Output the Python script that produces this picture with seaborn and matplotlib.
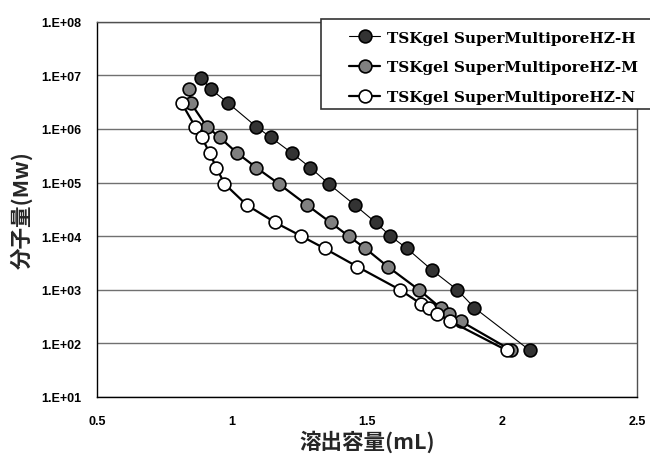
import numpy as np
import pandas as pd
import matplotlib
matplotlib.use("Agg")
import matplotlib.pyplot as plt
from matplotlib.ticker import FixedLocator, FuncFormatter, MultipleLocator
from matplotlib.patches import Rectangle
import seaborn as sns

# ---- data ----
series_names = ["TSKgel SuperMultiporeHZ-H",
                "TSKgel SuperMultiporeHZ-M",
                "TSKgel SuperMultiporeHZ-N"]

h_volume = [0.885, 0.922, 0.987, 1.090, 1.143, 1.222, 1.290, 1.358, 1.455,
            1.532, 1.587, 1.648, 1.742, 1.834, 1.898, 2.103]
h_mw = [9.0e6, 5.5e6, 3.0e6, 1.1e6, 7.0e5, 3.55e5, 1.9e5, 9.5e4, 3.8e4,
        1.8e4, 1.0e4, 5.9e3, 2.3e3, 1.0e3, 4.6e2, 74]

m_volume = [0.842, 0.848, 0.907, 0.954, 1.019, 1.090, 1.173, 1.278, 1.365,
            1.432, 1.494, 1.577, 1.692, 1.773, 1.804, 1.847, 2.035]
m_mw = [5.5e6, 3.0e6, 1.1e6, 7.0e5, 3.55e5, 1.9e5, 9.5e4, 3.8e4, 1.8e4,
        1.0e4, 5.9e3, 2.7e3, 1.0e3, 4.6e2, 3.6e2, 2.6e2, 74]

n_volume = [0.814, 0.864, 0.888, 0.917, 0.942, 0.972, 1.055, 1.160, 1.257,
            1.343, 1.464, 1.622, 1.699, 1.729, 1.760, 1.808, 2.018]
n_mw = [3.0e6, 1.1e6, 7.0e5, 3.55e5, 1.9e5, 9.5e4, 3.8e4, 1.8e4, 1.0e4,
        5.9e3, 2.7e3, 1.0e3, 5.5e2, 4.6e2, 3.6e2, 2.6e2, 74]

x_ticks = [0.5, 1.0, 1.5, 2.0, 2.5]
x_tick_labels = ["0.5", "1", "1.5", "2", "2.5"]
y_ticks = [1e1, 1e2, 1e3, 1e4, 1e5, 1e6, 1e7, 1e8]

x_label = "溶出容量(mL)"
y_label = "分子量(Mw)"

# ---- styling ----
sns.set_theme(style="white")
plt.rcParams["font.family"] = ["Liberation Sans", "DejaVu Sans"]

W, H = 650, 460
fig = plt.figure(figsize=(6.5, 4.6), dpi=100)
ax = fig.add_axes([97 / W, 1 - 398 / H, (637 - 97) / W, (398 - 22.7) / H])

face_colors = ["#333333", "#808080", "#ffffff"]
line_widths = [0.8, 1.6, 1.6]
volumes = [h_volume, m_volume, n_volume]
mws = [h_mw, m_mw, n_mw]

for name, vol, mw, fc, lw in zip(series_names, volumes, mws, face_colors, line_widths):
    df = pd.DataFrame({"vol": vol, "mw": mw})
    sns.lineplot(data=df, x="vol", y="mw", ax=ax, sort=False, color="black",
                 linewidth=lw, marker="o", markersize=9.2,
                 markerfacecolor=fc, markeredgecolor="black",
                 markeredgewidth=1.2, label=name, zorder=3)

ax.set_yscale("log")
ax.set_xlim(0.5, 2.5)
ax.set_ylim(1e1, 1e8)

ax.xaxis.set_major_locator(FixedLocator(x_ticks))
ax.set_xticklabels(x_tick_labels)
ax.xaxis.set_minor_locator(MultipleLocator(0.1))
ax.yaxis.set_major_locator(FixedLocator(y_ticks))
ax.yaxis.set_minor_locator(FixedLocator([]))
ax.yaxis.set_major_formatter(FuncFormatter(lambda v, p: "1.E+%02d" % int(round(np.log10(v)))))

ax.tick_params(axis="both", which="both", direction="in", colors="black",
               labelsize=9, width=0.8)
ax.tick_params(axis="x", which="major", length=3.5, pad=13)
ax.tick_params(axis="x", which="minor", length=3)
ax.tick_params(axis="y", which="major", length=3.5, pad=11)
ax.tick_params(axis="x", which="both", top=False)
ax.tick_params(axis="y", which="both", right=False)
for lab in ax.get_xticklabels() + ax.get_yticklabels():
    lab.set_fontweight("bold")

ax.grid(axis="y", which="major", color="#707070", linewidth=1.0)
ax.grid(axis="x", visible=False)
ax.set_axisbelow(True)

for s in ax.spines.values():
    s.set_visible(True)
    s.set_color("black")
    s.set_linewidth(1.0)
ax.spines["top"].set_color("#505050")
ax.spines["right"].set_color("#505050")

ax.set_xlabel(x_label, family=["Noto Sans CJK JP", "DejaVu Sans"],
              fontsize=15.5, fontweight="bold", labelpad=2)
ax.set_ylabel(y_label, family=["Noto Sans CJK JP", "DejaVu Sans"],
              fontsize=15.5, fontweight="bold", labelpad=6)

# legend with a manual frame that runs off the right edge
leg = ax.legend(loc="upper left", bbox_to_anchor=(337 / W, 1 - 19.5 / H),
                bbox_transform=fig.transFigure, frameon=False,
                prop={"family": "DejaVu Serif", "weight": "bold", "size": 11},
                handlelength=2.0, handletextpad=0.45, labelspacing=1.02,
                borderpad=0.3)
for t in leg.get_texts():
    t.set_color("black")
fig.add_artist(Rectangle((321 / W, 1 - 110 / H), (W + 20 - 321) / W, 90 / H,
                         transform=fig.transFigure, fill=True, facecolor="white",
                         edgecolor="#333333", linewidth=1.2, zorder=2.5))
leg.set_zorder(5)
ax.get_legend().remove()
fig.add_artist(leg)
leg.set_bbox_to_anchor((337 / W, 1 - 19.5 / H), transform=fig.transFigure)

fig.savefig("out.png", dpi=100)
